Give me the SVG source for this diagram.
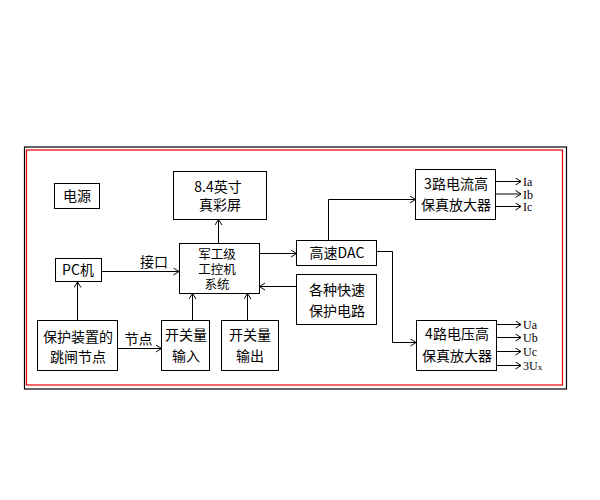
<svg xmlns="http://www.w3.org/2000/svg" width="600" height="500" viewBox="0 0 600 500">
<defs>
<marker id="arr" markerUnits="userSpaceOnUse" markerWidth="10" markerHeight="10" refX="6" refY="4" orient="auto">
<path d="M0.5,0.5 L6,4 L0.5,7.5" fill="none" stroke="#000" stroke-width="1"/>
</marker>
<style>
.box{fill:#fff;stroke:#000;stroke-width:1}
.t{font-family:"Noto Sans CJK SC","Liberation Sans",sans-serif;font-size:14px;fill:#000;text-anchor:middle}
.s{font-size:12.5px}
.o{font-family:"Liberation Serif","Noto Sans CJK SC",serif;font-size:12px;fill:#000}
.c{fill:none;stroke:#000;stroke-width:1;marker-end:url(#arr)}
</style>
</defs>
<rect x="0" y="0" width="600" height="500" fill="#fff"/>
<rect x="24.5" y="147" width="542" height="242" fill="none" stroke="#000" stroke-width="1.2"/>
<rect x="26.5" y="150" width="536" height="235" fill="none" stroke="#e00" stroke-width="1.2"/>

<g id="connectors">
<path class="c" d="M218.5,243 V219.5"/>
<path class="c" d="M102,271.5 H179"/>
<path class="c" d="M77.5,320 V282"/>
<path class="c" d="M117,348.5 H161.5"/>
<path class="c" d="M192.5,320 V293.5"/>
<path class="c" d="M247.5,320 V293.5"/>
<path class="c" d="M259,253.5 H296.5"/>
<path class="c" d="M297,286.5 H259.5"/>
<path class="c" d="M328.5,240 V199.5 H415.5"/>
<path class="c" d="M377,251.5 H392.5 V342.5 H416"/>
<path class="c" d="M496,181.5 H521"/>
<path class="c" d="M496,194 H521"/>
<path class="c" d="M496,206.5 H521"/>
<path class="c" d="M496.5,324.5 H521"/>
<path class="c" d="M496.5,337.5 H521"/>
<path class="c" d="M496.5,351.5 H521"/>
<path class="c" d="M496.5,365.5 H521"/>
<text class="t" x="154" y="267">接口</text>
<text class="t" x="138.5" y="344">节点</text>
</g>

<g id="power"><rect class="box" x="54.5" y="183.5" width="45" height="25"/><text class="t" x="77" y="201">电源</text></g>
<g id="screen"><rect class="box" x="173.5" y="171.5" width="93" height="48"/><text class="t" x="218" y="192">8.4英寸</text><text class="t" x="220" y="210">真彩屏</text></g>
<g id="ipc"><rect class="box" x="179.5" y="243.5" width="80" height="50"/><text class="t s" x="217" y="259">军工级</text><text class="t s" x="217" y="274">工控机</text><text class="t s" x="217" y="289">系统</text></g>
<g id="pc"><rect class="box" x="55.5" y="258.5" width="46" height="23"/><text class="t" x="78" y="275">PC机</text></g>
<g id="relay"><rect class="box" x="37.5" y="320.5" width="80" height="50"/><text class="t" x="78" y="342">保护装置的</text><text class="t" x="78" y="362">跳闸节点</text></g>
<g id="din"><rect class="box" x="161.5" y="320.5" width="48" height="50"/><text class="t" x="186" y="340">开关量</text><text class="t" x="186" y="361">输入</text></g>
<g id="dout"><rect class="box" x="221.5" y="320.5" width="57" height="50"/><text class="t" x="250" y="340">开关量</text><text class="t" x="250" y="361">输出</text></g>
<g id="dac"><rect class="box" x="296.5" y="240.5" width="80" height="25"/><text class="t" x="337" y="258">高速DAC</text></g>
<g id="prot"><rect class="box" x="296.5" y="274.5" width="80" height="50"/><text class="t" x="337" y="295">各种快速</text><text class="t" x="337" y="316">保护电路</text></g>
<g id="amp3"><rect class="box" x="415.5" y="169.5" width="80" height="50"/><text class="t" x="456" y="189">3路电流高</text><text class="t" x="456" y="210">保真放大器</text></g>
<g id="amp4"><rect class="box" x="416.5" y="320.5" width="80" height="50"/><text class="t" x="457" y="339">4路电压高</text><text class="t" x="457" y="361">保真放大器</text></g>
<g id="outs">
<text class="o" x="523" y="186">Ia</text>
<text class="o" x="523" y="198.5">Ib</text>
<text class="o" x="523" y="211">Ic</text>
<text class="o" x="523" y="329">Ua</text>
<text class="o" x="523" y="342">Ub</text>
<text class="o" x="523" y="356">Uc</text>
<text class="o" x="523" y="370">3U<tspan font-size="9">x</tspan></text>
</g>
</svg>
